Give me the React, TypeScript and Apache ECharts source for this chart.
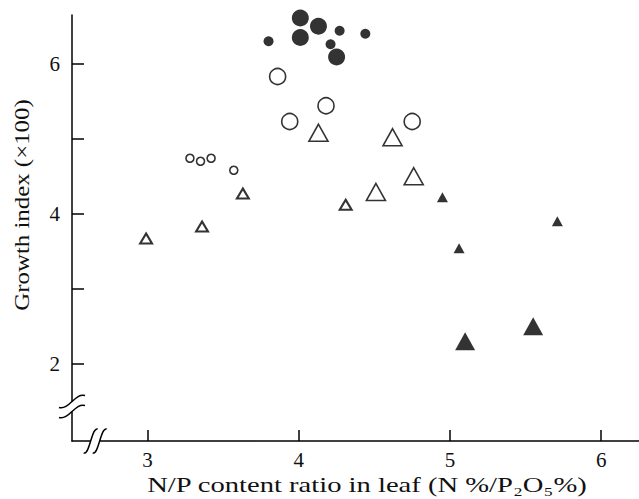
import React, { useEffect, useRef } from "react";
import * as echarts from "echarts";

// Data: [N/P ratio, growth index (x100)]
const filledCircleLarge = [[4.01, 6.61], [4.01, 6.35], [4.13, 6.5], [4.25, 6.09]];
const filledCircleSmall = [[3.8, 6.3], [4.27, 6.44], [4.21, 6.26], [4.44, 6.4]];
const openCircleLarge = [[3.86, 5.83], [4.18, 5.44], [3.94, 5.23], [4.75, 5.23]];
const openCircleSmall = [[3.28, 4.74], [3.35, 4.7], [3.42, 4.74], [3.57, 4.58]];
const openTriangleLarge = [[4.13, 5.08], [4.62, 5.02], [4.76, 4.5], [4.51, 4.29]];
const openTriangleSmall = [[2.99, 3.67], [3.36, 3.83], [3.63, 4.27], [4.31, 4.12]];
const filledTriangleSmall = [[4.95, 4.22], [5.06, 3.54], [5.71, 3.9]];
const filledTriangleLarge = [[5.1, 2.3], [5.55, 2.5]];

const xTicks = [3, 4, 5, 6];
const yTicks = [2, 3, 4, 5, 6];
const yLabels = [2, 4, 6];

const xRange = [2.5, 6.25];
const yRange = [0.97, 6.65];
const xBreakValue = 2.65;
const yBreakValue = 1.43;

const xTitle = "N/P content ratio in leaf (N %/P\u2082O\u2085%)";
const yTitle = "Growth index (\u00d7100)";

const FONT = "'Liberation Serif', 'DejaVu Serif', serif";

export default function App() {
  const ref = useRef<HTMLDivElement>(null);
  useEffect(() => {
    if (!ref.current) return;
    const chart = echarts.init(ref.current, null, { renderer: "svg" });
    const filled = { color: "#000" };
    const open = { color: "#fff", borderColor: "#000", borderWidth: 1.6 };
    const mk = (data: number[][], symbol: string, size: any, style: any) => ({
      type: "scatter",
      data,
      symbol,
      symbolSize: size,
      itemStyle: style,
      emphasis: { disabled: true },
    });
    chart.setOption({
      animation: false,
      grid: { left: 72, right: 0, top: 15, bottom: 58 },
      xAxis: {
        type: "value",
        min: xRange[0],
        max: xRange[1],
        splitLine: { show: false },
        axisLine: { show: true, lineStyle: { color: "#000", width: 1.5 } },
        axisTick: {
          show: true,
          inside: true,
          length: 11,
          customValues: xTicks,
          lineStyle: { color: "#000", width: 1.5 },
        },
        axisLabel: {
          customValues: xTicks,
          margin: 8,
          fontFamily: FONT,
          fontSize: 21,
          color: "#111",
        },
      },
      yAxis: {
        type: "value",
        min: yRange[0],
        max: yRange[1],
        splitLine: { show: false },
        axisLine: { show: true, lineStyle: { color: "#000", width: 1.5 } },
        axisTick: {
          show: true,
          inside: true,
          length: 12,
          customValues: yTicks,
          lineStyle: { color: "#000", width: 1.5 },
        },
        axisLabel: {
          customValues: yLabels,
          margin: 12,
          fontFamily: FONT,
          fontSize: 21,
          color: "#111",
        },
      },
      series: [
        mk(filledCircleLarge, "circle", 17, filled),
        mk(filledCircleSmall, "circle", 10, filled),
        mk(openCircleLarge, "circle", 16, open),
        mk(openCircleSmall, "circle", 8, open),
        mk(openTriangleLarge, "triangle", [19, 17], open),
        mk(openTriangleSmall, "triangle", [12, 10], { ...open, borderWidth: 2 }),
        mk(filledTriangleSmall, "triangle", [11, 10], filled),
        mk(filledTriangleLarge, "triangle", [20, 18], filled),
      ],
    });

    const yb = chart.convertToPixel({ gridIndex: 0 }, [xRange[0], yBreakValue]) as number[];
    const xb = chart.convertToPixel({ gridIndex: 0 }, [xBreakValue, yRange[0]]) as number[];
    const stroke = { stroke: "#000", lineWidth: 1.5, fill: null };
    const yCurve = (cx: number, cy: number) => ({
      type: "bezierCurve",
      shape: { x1: cx - 13, y1: cy + 6, cpx1: cx - 3, cpy1: cy + 9, cpx2: cx + 3, cpy2: cy - 9, x2: cx + 13, y2: cy - 6 },
      style: stroke,
      z: 10,
    });
    const xCurve = (cx: number, cy: number) => ({
      type: "bezierCurve",
      shape: { x1: cx - 7, y1: cy + 12, cpx1: cx - 1, cpy1: cy + 14, cpx2: cx + 1, cpy2: cy - 14, x2: cx + 7, y2: cy - 12 },
      style: stroke,
      z: 10,
    });
    chart.setOption({
      graphic: [
        { type: "line", shape: { x1: yb[0], y1: yb[1] - 5, x2: yb[0], y2: yb[1] + 5 }, style: { stroke: "#fff", lineWidth: 4 }, z: 9 },
        yCurve(yb[0], yb[1] - 5),
        yCurve(yb[0], yb[1] + 5),
        { type: "line", shape: { x1: xb[0] - 4, y1: xb[1], x2: xb[0] + 5, y2: xb[1] }, style: { stroke: "#fff", lineWidth: 4 }, z: 9 },
        xCurve(xb[0] - 4, xb[1]),
        xCurve(xb[0] + 5, xb[1]),
        {
          type: "text",
          x: 367,
          y: 485,
          scaleX: 1.3,
          style: {
            text: xTitle,
            fontFamily: FONT,
            fontSize: 22,
            fill: "#111",
            align: "center",
            verticalAlign: "middle",
          },
        },
        {
          type: "text",
          x: 22,
          y: 205,
          rotation: Math.PI / 2,
          scaleX: 1.13,
          style: {
            text: yTitle,
            fontFamily: FONT,
            fontSize: 22,
            fill: "#111",
            align: "center",
            verticalAlign: "middle",
          },
        },
      ],
    });
    return () => chart.dispose();
  }, []);
  return (
    <div
      ref={ref}
      style={{ position: "absolute", left: 0, top: 0, width: 639, height: 499, background: "#fff" }}
    />
  );
}
